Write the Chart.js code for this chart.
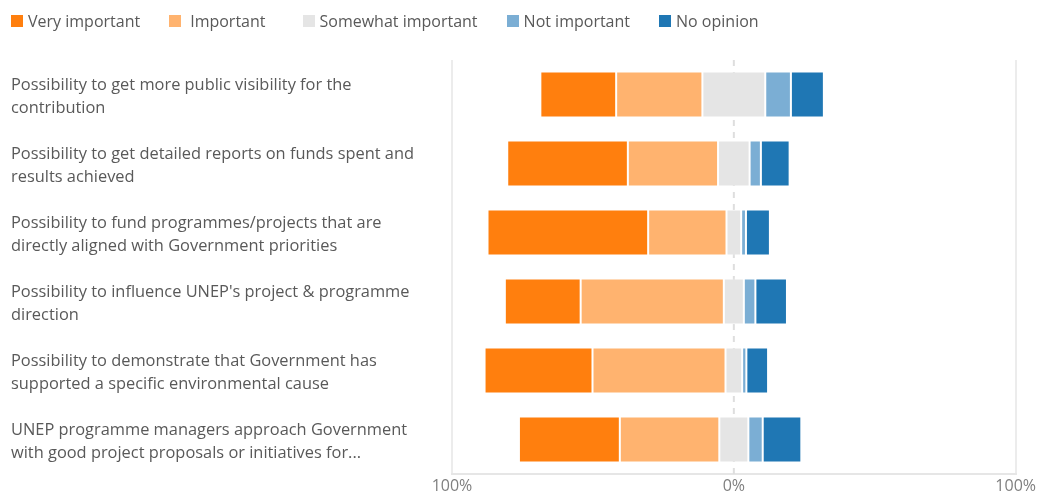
<!DOCTYPE html>
<html>
<head>
<meta charset="utf-8">
<script src="https://cdn.jsdelivr.net/npm/chart.js@4.4.1/dist/chart.umd.min.js"></script>
<style>
  body { margin: 0; background: #fff; }
  #wrap { position: relative; width: 1039px; height: 492px; }
  #legend {
    position: absolute; left: 11px; top: 9px;
    display: flex; font-family: "Open Sans", sans-serif; font-size: 16px; color: #595959;
  }
  .item { display: flex; align-items: center; margin-right: 29px; line-height: 24px; }
  .item:nth-child(2) .txt { margin-left: 4px; margin-right: 8px; }
  .box { width: 12px; height: 12px; margin-right: 5px; }
</style>
</head>
<body>
<div id="wrap">
  <div id="legend"></div>
  <canvas id="likertChart"></canvas>
</div>
<script>
// Survey statements (y axis)
const categories = [
  ["Possibility to get more public visibility for the", "contribution"],
  ["Possibility to get detailed reports on funds spent and", "results achieved"],
  ["Possibility to fund programmes/projects that are", "directly aligned with Government priorities"],
  ["Possibility to influence UNEP's project & programme", "direction"],
  ["Possibility to demonstrate that Government has", "supported a specific environmental cause"],
  ["UNEP programme managers approach Government", "with good project proposals or initiatives for..."],
];

// Share of answers, %
const veryImportant = [26.9, 42.8, 57.0, 26.9, 38.3, 35.8];
const important = [30.6, 32.0, 27.8, 50.8, 47.2, 35.3];
const somewhatImportant = [22.3, 11.2, 5.2, 7.1, 5.9, 10.3];
const notImportant = [9.1, 4.0, 1.7, 4.1, 1.5, 5.1];
const noOpinion = [11.7, 10.2, 8.5, 11.2, 7.7, 13.7];

const seriesNames = ["Very important", "Important", "Somewhat important", "Not important", "No opinion"];
const seriesColors = ["#FF7F0E", "#FFB36F", "#E5E5E5", "#7BAED4", "#1F77B4"];
const xTicks = [-100, 0, 100];

// Diverging layout: neutral answer is split across 0
function buildSegments() {
  const segs = [[], [], [], [], []];
  categories.forEach((c, i) => {
    const half = somewhatImportant[i] / 2;
    const left2 = -half - important[i];
    segs[0].push([left2 - veryImportant[i], left2]);
    segs[1].push([left2, -half]);
    segs[2].push([-half, half]);
    segs[3].push([half, half + notImportant[i]]);
    segs[4].push([half + notImportant[i], half + notImportant[i] + noOpinion[i]]);
  });
  return segs;
}

const segments = buildSegments();

// HTML legend
const legendEl = document.getElementById("legend");
seriesNames.forEach((name, i) => {
  const item = document.createElement("div");
  item.className = "item";
  item.innerHTML = `<span class="box" style="background:${seriesColors[i]}"></span><span class="txt">${name}</span>`;
  legendEl.appendChild(item);
});

// dashed line at 0%
const zeroLine = {
  id: "zeroLine",
  beforeDatasetsDraw(chart) {
    const { ctx, chartArea, scales } = chart;
    const x = scales.x.getPixelForValue(0);
    ctx.save();
    ctx.strokeStyle = "#dedede";
    ctx.lineWidth = 2;
    ctx.setLineDash([6, 6]);
    ctx.beginPath();
    ctx.moveTo(x, chartArea.top);
    ctx.lineTo(x, chartArea.bottom);
    ctx.stroke();
    ctx.restore();
  },
};

new Chart(document.getElementById("likertChart"), {
  type: "bar",
  data: {
    labels: categories,
    datasets: seriesNames.map((name, i) => ({
      label: name,
      data: segments[i],
      backgroundColor: seriesColors[i],
      borderColor: "rgba(255,255,255,0.35)",
      borderWidth: 1,
      borderSkipped: false,
      grouped: false,
      barPercentage: 0.67,
      categoryPercentage: 1,
    })),
  },
  options: {
    indexAxis: "y",
    responsive: true,
    maintainAspectRatio: false,
    animation: false,
    layout: { padding: { top: 60, left: 11, right: 22, bottom: 0 } },
    plugins: {
      legend: { display: false },
      tooltip: { enabled: false },
    },
    scales: {
      x: {
        min: -100,
        max: 100,
        afterBuildTicks: (scale) => {
          scale.ticks = xTicks.map((v) => ({ value: v }));
        },
        afterFit: (scale) => {
          scale.height = 18;
        },
        grid: {
          drawTicks: false,
          lineWidth: 2,
          color: (ctx) => (ctx.tick && ctx.tick.value === 0 ? "rgba(0,0,0,0)" : "#ececec"),
        },
        border: { display: true, color: "#e6e6e6", width: 2 },
        ticks: {
          padding: 3,
          color: "#7f7f7f",
          font: { family: "Open Sans", size: 16 },
          callback: (v) => Math.abs(v) + "%",
        },
      },
      y: {
        afterFit: (scale) => {
          scale.width = 441;
          scale.paddingTop = 0;
          scale.paddingBottom = 0;
        },
        grid: { display: false },
        border: { display: false },
        ticks: {
          crossAlign: "far",
          labelOffset: 2,
          color: "#595959",
          font: { family: "Open Sans", size: 16.4, lineHeight: 1.4 },
        },
      },
    },
  },
  plugins: [zeroLine],
});
</script>
</body>
</html>
